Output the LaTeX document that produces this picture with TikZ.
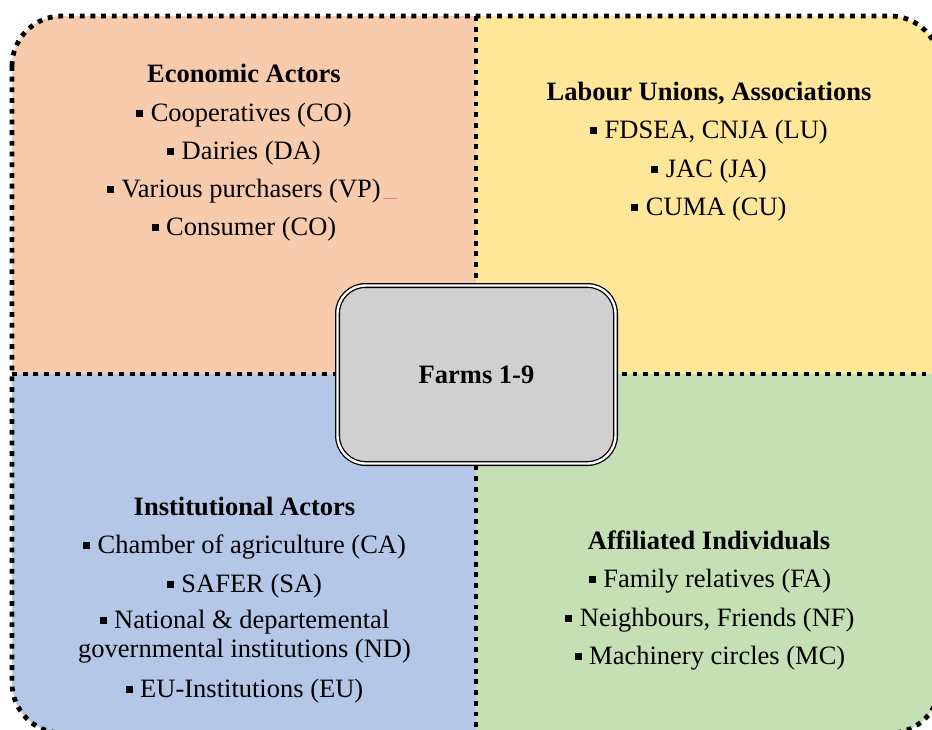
\documentclass[tikz,border=0pt]{standalone}
\usepackage{fontspec}
\setmainfont{Liberation Serif}
\usetikzlibrary{calc}
\definecolor{econfill}{HTML}{F8CBAD}
\definecolor{unionfill}{HTML}{FFE699}
\definecolor{instfill}{HTML}{B4C7E7}
\definecolor{afffill}{HTML}{C5E0B4}
\definecolor{farmfill}{HTML}{D0D0D0}
\definecolor{spellred}{HTML}{E88080}
% small square list bullet
\newcommand\sqbullet{\raisebox{3.8pt}{\rule{7pt}{7pt}}\hspace{7.5pt}}
\begin{document}
\begin{tikzpicture}[x=1pt,y=-1pt,
  txt/.style={inner sep=0pt, anchor=base, font=\fontsize{26.5}{30}\selectfont},
  head/.style={inner sep=0pt, anchor=base, font=\fontsize{26.5}{30}\selectfont\bfseries},
  sepline/.style={line width=4.8pt, dash pattern=on 4.8pt off 5.9pt},
  farmbox/.style={draw, double, double distance=2.4pt, line width=1.3pt,
    fill=farmfill, rounded corners=28pt, inner sep=0pt,
    minimum width=278pt, minimum height=178pt,
    font=\fontsize{26.5}{30}\selectfont\bfseries}]
\useasboundingbox (0,0) rectangle (932,729);
\clip (0,0) rectangle (932,729);

% four coloured quadrants inside the rounded frame
\begin{scope}
  \clip[rounded corners=50pt] (12,16) rectangle (940,733);
  \fill[econfill]  (0,0) rectangle (476,374);
  \fill[unionfill] (476,0) rectangle (950,374);
  \fill[instfill]  (0,374) rectangle (476,750);
  \fill[afffill]   (476,374) rectangle (950,750);
\end{scope}

% dotted frame and dividers
\draw[sepline, rounded corners=50pt] (12,16) rectangle (940,733);
\draw[sepline] (476,16) -- (476,733);
\draw[sepline] (12,374) -- (940,374);

% centre
\node[farmbox] (farms) at (476.5,374.5) {Farms 1-9};

% economic actors
\node[head] (econhead) at (244,82) {Economic Actors};
\node[txt] (co)   at (244,121) {\sqbullet Cooperatives (CO)};
\node[txt] (da)   at (244,159) {\sqbullet Dairies (DA)};
\node[txt] (vp)   at (244,197) {\sqbullet Various purchasers (VP)};
\node[txt] (cons) at (244,235) {\sqbullet Consumer (CO)};
\draw[spellred, line width=0.7pt] ($(vp.base east)+(2,1)$) -- ($(vp.base east)+(16,1)$);

% labour unions
\node[head] (labhead) at (709,100) {Labour Unions, Associations};
\node[txt] (lu) at (709,138) {\sqbullet FDSEA, CNJA (LU)};
\node[txt] (ja) at (709,177) {\sqbullet JAC (JA)};
\node[txt] (cu) at (709,215) {\sqbullet CUMA (CU)};

% institutional actors
\node[head] (insthead) at (244.5,515) {Institutional Actors};
\node[txt] (ca)  at (244.5,553) {\sqbullet Chamber of agriculture (CA)};
\node[txt] (sa)  at (244.5,592) {\sqbullet SAFER (SA)};
\node[txt] (nda) at (244.5,628) {\sqbullet National \& departemental};
\node[txt] (ndb) at (244.5,657) {governmental institutions (ND)};
\node[txt] (eu)  at (244.5,697) {\sqbullet EU-Institutions (EU)};

% affiliated individuals
\node[head] (affhead) at (709,549) {Affiliated Individuals};
\node[txt] (fa) at (710,587) {\sqbullet Family relatives (FA)};
\node[txt] (nf) at (710,626) {\sqbullet Neighbours, Friends (NF)};
\node[txt] (mc) at (710,664) {\sqbullet Machinery circles (MC)};
\end{tikzpicture}
\end{document}
